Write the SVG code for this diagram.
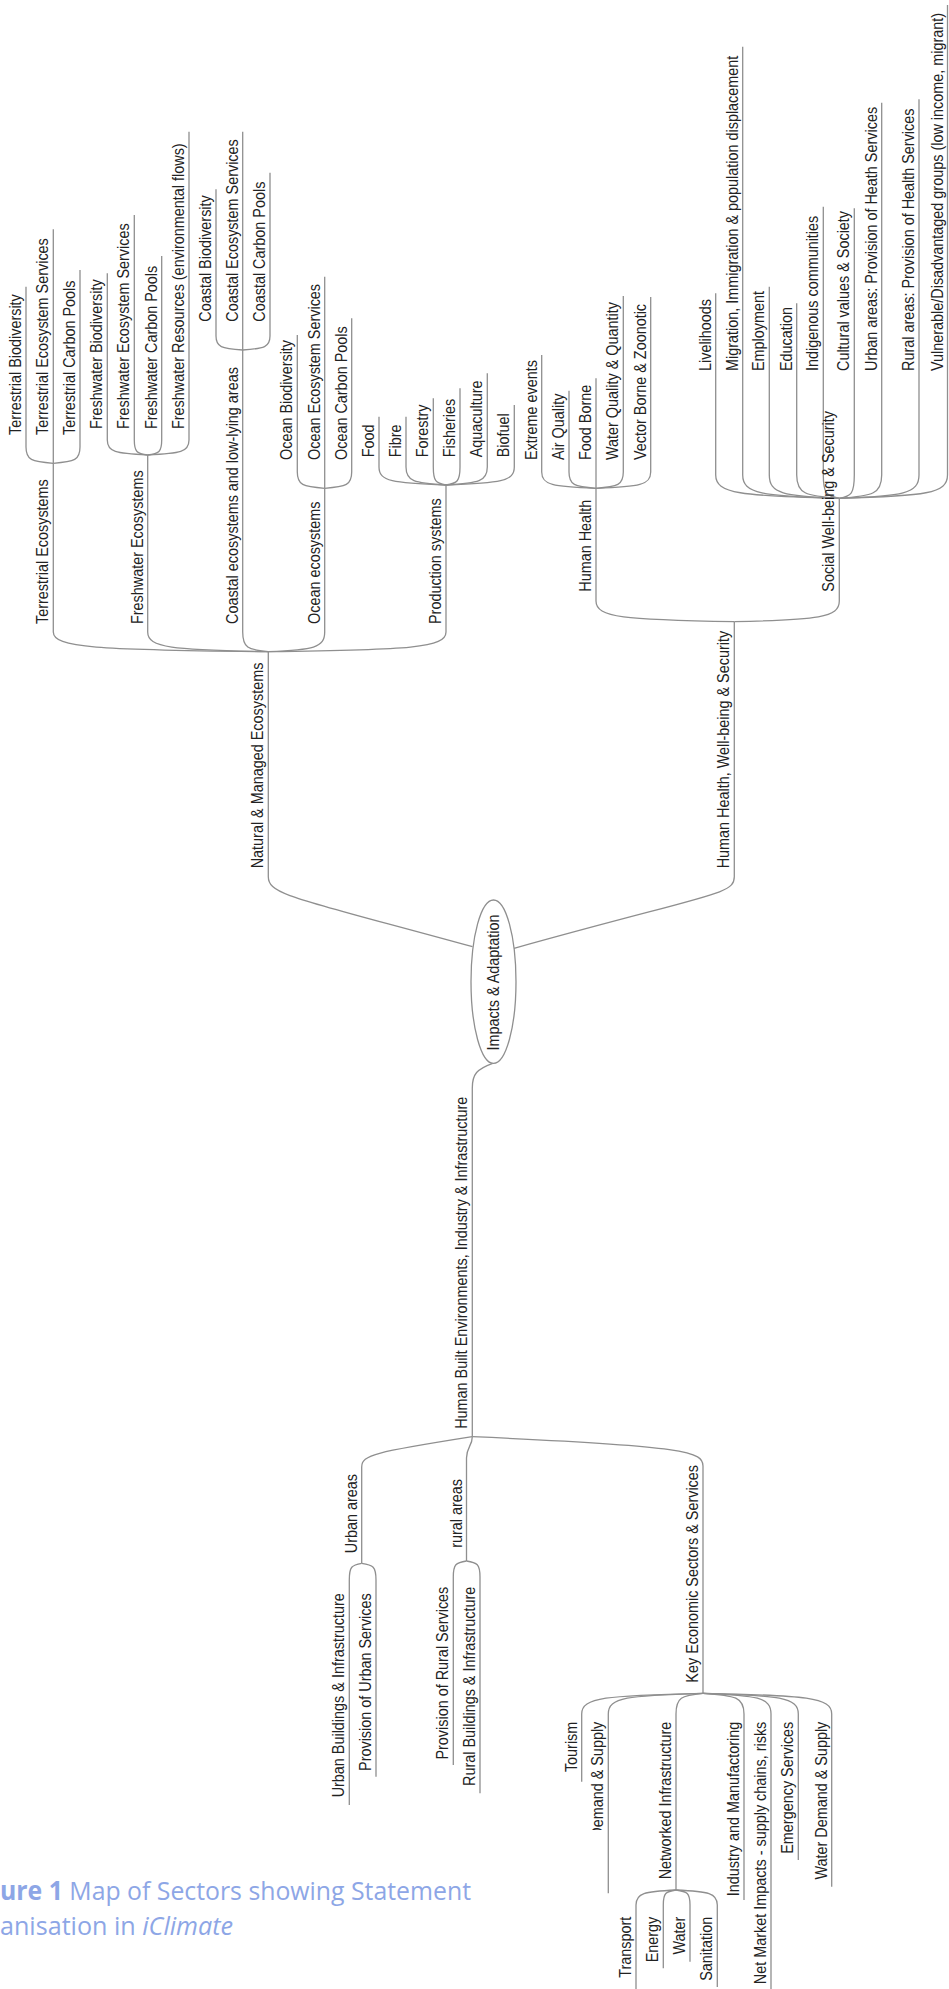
<svg xmlns="http://www.w3.org/2000/svg" width="949" height="1989" viewBox="0 0 949 1989">
<defs>
<style>
.t{font-family:"Liberation Sans",Arial,sans-serif;font-size:16px;fill:#222}
.e{text-anchor:end}
.m{text-anchor:middle}
.c{fill:none;stroke:#8f8f8f;stroke-width:1.3}
.el{fill:#fff;stroke:#8f8f8f;stroke-width:1.3}
.cap{font-family:"Open Sans","Noto Sans",sans-serif;font-size:26px;fill:#8da6e6}
</style>
<clipPath id="clipDS"><rect x="0" y="0" width="949" height="1830"/></clipPath>
</defs>
<rect width="949" height="1989" fill="#fff"/>
<g id="connectors" class="c">
<path d="M268.3,651.7 V876.7 C268.3,895 295,898 472.5,946.7"/>
<path d="M734.3,621.7 V876.7 C734.3,895 712,893 514,948.3"/>
<path d="M492.7,1063.3 C477,1069 472.3,1074 472.3,1088 V1436.7"/>
<path d="M53.3,463.3 V632 C53.3,647.8 96.3,649.7 268.3,651.7"/>
<path d="M147.7,455 V632 C147.7,647.8 171.8,649.7 268.3,651.7"/>
<path d="M242.7,350 V632 C242.7,647.8 247.8,649.7 268.3,651.7"/>
<path d="M324.7,488.3 V632 C324.7,647.8 313.4,649.7 268.3,651.7"/>
<path d="M446,485 V632 C446,647.8 410.5,649.7 268.3,651.7"/>
<path d="M596,488.3 V601 C596,617.6 623.7,619.6 734.3,621.7"/>
<path d="M839.3,498.3 V601 C839.3,617.6 818.3,619.6 734.3,621.7"/>
<path d="M26,286.7 V447 C26,460 31.5,461.7 53.3,463.3"/>
<path d="M53.3,229.3 V463.3"/>
<path d="M80,270 V447 C80,460 74.7,461.7 53.3,463.3"/>
<path d="M107.3,273.3 V440 C107.3,452 115.4,453.5 147.7,455"/>
<path d="M134.3,215 V440 C134.3,452 137,453.5 147.7,455"/>
<path d="M161.7,256 V440 C161.7,452 158.9,453.5 147.7,455"/>
<path d="M189,131.7 V440 C189,452 180.7,453.5 147.7,455"/>
<path d="M216,189.3 V336 C216,347 221.3,348.6 242.7,350"/>
<path d="M242.7,131.7 V350"/>
<path d="M270,172.7 V336 C270,347 264.5,348.6 242.7,350"/>
<path d="M297.3,335 V472 C297.3,485 302.8,486.7 324.7,488.3"/>
<path d="M324.7,276.7 V488.3"/>
<path d="M351.7,318.3 V472 C351.7,485 346.3,486.7 324.7,488.3"/>
<path d="M379,416.7 V467 C379,481.4 392.4,483.2 446,485"/>
<path d="M406,416.7 V467 C406,481.4 414,483.2 446,485"/>
<path d="M433.3,398.3 V467 C433.3,481.4 435.8,483.2 446,485"/>
<path d="M460,388.3 V467 C460,481.4 457.2,483.2 446,485"/>
<path d="M487.3,373.3 V467 C487.3,481.4 479,483.2 446,485"/>
<path d="M514.3,405 V467 C514.3,481.4 500.6,483.2 446,485"/>
<path d="M541.7,355 V472 C541.7,485 552.6,486.7 596,488.3"/>
<path d="M569,390.7 V472 C569,485 574.4,486.7 596,488.3"/>
<path d="M596,378.3 V488.3"/>
<path d="M623.3,296 V472 C623.3,485 617.8,486.7 596,488.3"/>
<path d="M650.7,297 V472 C650.7,485 639.8,486.7 596,488.3"/>
<path d="M715.7,293.3 V475 C715.7,493.6 740.4,496 839.3,498.3"/>
<path d="M742.7,46.7 V475 C742.7,493.6 762,496 839.3,498.3"/>
<path d="M769.3,286.7 V475 C769.3,493.6 783.3,496 839.3,498.3"/>
<path d="M796.7,303.3 V475 C796.7,493.6 805.2,496 839.3,498.3"/>
<path d="M823.3,206.7 V475 C823.3,493.6 826.5,496 839.3,498.3"/>
<path d="M854.3,208.3 V475 C854.3,493.6 851.3,496 839.3,498.3"/>
<path d="M881.7,102.7 V475 C881.7,493.6 873.2,496 839.3,498.3"/>
<path d="M919,99.3 V475 C919,493.6 903.1,496 839.3,498.3"/>
<path d="M947.5,5 V475 C947.5,493.6 925.9,496 839.3,498.3"/>
<path d="M361.7,1563.3 V1467 C361.7,1455 375,1452 472.3,1436.7"/>
<path d="M466.5,1561 V1458 C466.5,1447 472.3,1446 472.3,1436.7"/>
<path d="M703,1693.3 V1466 C703,1452 690,1446 472.3,1436.7"/>
<path d="M349.3,1805 V1580 C349.3,1566.6 351.8,1565 361.7,1563.3"/>
<path d="M376,1776.7 V1580 C376,1566.6 373.1,1565 361.7,1563.3"/>
<path d="M453.3,1765 V1577 C453.3,1564.2 455.9,1562.6 466.5,1561"/>
<path d="M480,1793.3 V1577 C480,1564.2 477.2,1562.6 466.5,1561"/>
<path d="M581.7,1781.7 V1714 C581.7,1697.4 605.9,1695.4 703,1693.3"/>
<path d="M608.3,1893.3 V1714 C608.3,1697.4 627.2,1695.4 703,1693.3"/>
<path d="M676,1890 V1714 C676,1697.4 681.4,1695.4 703,1693.3"/>
<path d="M744,1900 V1714 C744,1697.4 735.8,1695.4 703,1693.3"/>
<path d="M771,1989 V1714 C771,1697.4 757.4,1695.4 703,1693.3"/>
<path d="M798.3,1860 V1714 C798.3,1697.4 779.3,1695.4 703,1693.3"/>
<path d="M831.7,1886.7 V1714 C831.7,1697.4 806.7,1695.4 703,1693.3"/>
<path d="M636,1989 V1905 C636,1893 644,1891.5 676,1890"/>
<path d="M663.3,1968.3 V1905 C663.3,1893 665.8,1891.5 676,1890"/>
<path d="M690,1961.7 V1905 C690,1893 687.2,1891.5 676,1890"/>
<path d="M717.3,1987 V1905 C717.3,1893 709,1891.5 676,1890"/>
</g>
<g id="root"><ellipse class="el" cx="493.5" cy="981.7" rx="22.5" ry="81.7"/><text class="t m" transform="translate(499,982.5) rotate(-90) scale(0.9,1)">Impacts &amp; Adaptation</text></g>
<g id="natural-managed"><text class="t" transform="translate(263.3,868.3) rotate(-90) scale(0.9,1)">Natural &amp; Managed Ecosystems</text></g>
<g id="human-health-wellbeing"><text class="t" transform="translate(729.3,868.3) rotate(-90) scale(0.9,1)">Human Health, Well-being &amp; Security</text></g>
<g id="human-built"><text class="t e" transform="translate(467.3,1096.7) rotate(-90) scale(0.9,1)">Human Built Environments, Industry &amp; Infrastructure</text></g>
<g id="terrestrial-ecosystems"><text class="t" transform="translate(48.3,624) rotate(-90) scale(0.9,1)">Terrestrial Ecosystems</text></g>
<g id="freshwater-ecosystems"><text class="t" transform="translate(142.7,624) rotate(-90) scale(0.9,1)">Freshwater Ecosystems</text></g>
<g id="coastal-ecosystems"><text class="t" transform="translate(237.7,624) rotate(-90) scale(0.9,1)">Coastal ecosystems and low-lying areas</text></g>
<g id="ocean-ecosystems"><text class="t" transform="translate(319.7,624) rotate(-90) scale(0.9,1)">Ocean ecosystems</text></g>
<g id="production-systems"><text class="t" transform="translate(441,624) rotate(-90) scale(0.9,1)">Production systems</text></g>
<g id="human-health"><text class="t" transform="translate(591,591.7) rotate(-90) scale(0.9,1)">Human Health</text></g>
<g id="social-wellbeing"><text class="t" transform="translate(834.3,591.7) rotate(-90) scale(0.9,1)">Social Well-being &amp; Security</text></g>
<g id="terrestrial-biodiversity"><text class="t" transform="translate(21,435) rotate(-90) scale(0.9,1)">Terrestrial Biodiversity</text></g>
<g id="terrestrial-ecosystem-services"><text class="t" transform="translate(48.3,435) rotate(-90) scale(0.9,1)">Terrestrial Ecosystem Services</text></g>
<g id="terrestrial-carbon-pools"><text class="t" transform="translate(75,435) rotate(-90) scale(0.9,1)">Terrestrial Carbon Pools</text></g>
<g id="freshwater-biodiversity"><text class="t" transform="translate(102.3,429) rotate(-90) scale(0.9,1)">Freshwater Biodiversity</text></g>
<g id="freshwater-ecosystem-services"><text class="t" transform="translate(129.3,429) rotate(-90) scale(0.9,1)">Freshwater Ecosystem Services</text></g>
<g id="freshwater-carbon-pools"><text class="t" transform="translate(156.7,429) rotate(-90) scale(0.9,1)">Freshwater Carbon Pools</text></g>
<g id="freshwater-resources"><text class="t" transform="translate(184,429) rotate(-90) scale(0.9,1)">Freshwater Resources (environmental flows)</text></g>
<g id="coastal-biodiversity"><text class="t" transform="translate(211,321.7) rotate(-90) scale(0.9,1)">Coastal Biodiversity</text></g>
<g id="coastal-ecosystem-services"><text class="t" transform="translate(237.7,321.7) rotate(-90) scale(0.9,1)">Coastal Ecosystem Services</text></g>
<g id="coastal-carbon-pools"><text class="t" transform="translate(265,321.7) rotate(-90) scale(0.9,1)">Coastal Carbon Pools</text></g>
<g id="ocean-biodiversity"><text class="t" transform="translate(292.3,460) rotate(-90) scale(0.9,1)">Ocean Biodiversity</text></g>
<g id="ocean-ecosystem-services"><text class="t" transform="translate(319.7,460) rotate(-90) scale(0.9,1)">Ocean Ecosystem Services</text></g>
<g id="ocean-carbon-pools"><text class="t" transform="translate(346.7,460) rotate(-90) scale(0.9,1)">Ocean Carbon Pools</text></g>
<g id="food"><text class="t" transform="translate(374,457.3) rotate(-90) scale(0.9,1)">Food</text></g>
<g id="fibre"><text class="t" transform="translate(401,457.3) rotate(-90) scale(0.9,1)">Fibre</text></g>
<g id="forestry"><text class="t" transform="translate(428.3,457.3) rotate(-90) scale(0.9,1)">Forestry</text></g>
<g id="fisheries"><text class="t" transform="translate(455,457.3) rotate(-90) scale(0.9,1)">Fisheries</text></g>
<g id="aquaculture"><text class="t" transform="translate(482.3,457.3) rotate(-90) scale(0.9,1)">Aquaculture</text></g>
<g id="biofuel"><text class="t" transform="translate(509.3,457.3) rotate(-90) scale(0.9,1)">Biofuel</text></g>
<g id="extreme-events"><text class="t" transform="translate(536.7,460) rotate(-90) scale(0.9,1)">Extreme events</text></g>
<g id="air-quality"><text class="t" transform="translate(564,460) rotate(-90) scale(0.9,1)">Air Quality</text></g>
<g id="food-borne"><text class="t" transform="translate(591,460) rotate(-90) scale(0.9,1)">Food Borne</text></g>
<g id="water-quality"><text class="t" transform="translate(618.3,460) rotate(-90) scale(0.9,1)">Water Quality &amp; Quantity</text></g>
<g id="vector-borne"><text class="t" transform="translate(645.7,460) rotate(-90) scale(0.9,1)">Vector Borne &amp; Zoonotic</text></g>
<g id="livelihoods"><text class="t" transform="translate(710.7,371) rotate(-90) scale(0.9,1)">Livelihoods</text></g>
<g id="migration"><text class="t" transform="translate(737.7,371) rotate(-90) scale(0.9,1)">Migration, Immigration &amp; population displacement</text></g>
<g id="employment"><text class="t" transform="translate(764.3,371) rotate(-90) scale(0.9,1)">Employment</text></g>
<g id="education"><text class="t" transform="translate(791.7,371) rotate(-90) scale(0.9,1)">Education</text></g>
<g id="indigenous"><text class="t" transform="translate(818.3,371) rotate(-90) scale(0.9,1)">Indigenous communities</text></g>
<g id="cultural"><text class="t" transform="translate(849.3,371) rotate(-90) scale(0.9,1)">Cultural values &amp; Society</text></g>
<g id="urban-health"><text class="t" transform="translate(876.7,371) rotate(-90) scale(0.9,1)">Urban areas: Provision of Heath Services</text></g>
<g id="rural-health"><text class="t" transform="translate(914,371) rotate(-90) scale(0.9,1)">Rural areas: Provision of Health Services</text></g>
<g id="vulnerable"><text class="t" transform="translate(942.5,371) rotate(-90) scale(0.9,1)">Vulnerable/Disadvantaged groups (low income, migrant)</text></g>
<g id="urban-areas"><text class="t e" transform="translate(356.7,1474) rotate(-90) scale(0.9,1)">Urban areas</text></g>
<g id="rural-areas"><text class="t e" transform="translate(461.5,1479) rotate(-90) scale(0.9,1)">rural areas</text></g>
<g id="key-economic"><text class="t e" transform="translate(698,1465) rotate(-90) scale(0.9,1)">Key Economic Sectors &amp; Services</text></g>
<g id="urban-buildings"><text class="t e" transform="translate(344.3,1593.3) rotate(-90) scale(0.9,1)">Urban Buildings &amp; Infrastructure</text></g>
<g id="urban-services"><text class="t e" transform="translate(371,1593.3) rotate(-90) scale(0.9,1)">Provision of Urban Services</text></g>
<g id="rural-services"><text class="t e" transform="translate(448.3,1586.7) rotate(-90) scale(0.9,1)">Provision of Rural Services</text></g>
<g id="rural-buildings"><text class="t e" transform="translate(475,1586.7) rotate(-90) scale(0.9,1)">Rural Buildings &amp; Infrastructure</text></g>
<g id="tourism"><text class="t e" transform="translate(576.7,1721.7) rotate(-90) scale(0.9,1)">Tourism</text></g>
<g id="demand-supply" clip-path="url(#clipDS)"><text class="t e" transform="translate(603.3,1721.7) rotate(-90) scale(0.9,1)">Demand &amp; Supply</text></g>
<g id="networked"><text class="t e" transform="translate(671,1721.7) rotate(-90) scale(0.9,1)">Networked Infrastructure</text></g>
<g id="industry"><text class="t e" transform="translate(739,1721.7) rotate(-90) scale(0.9,1)">Industry and Manufactoring</text></g>
<g id="net-market"><text class="t e" transform="translate(766,1721.7) rotate(-90) scale(0.9,1)">Net Market Impacts - supply chains, risks</text></g>
<g id="emergency"><text class="t e" transform="translate(793.3,1721.7) rotate(-90) scale(0.9,1)">Emergency Services</text></g>
<g id="water-demand"><text class="t e" transform="translate(826.7,1721.7) rotate(-90) scale(0.9,1)">Water Demand &amp; Supply</text></g>
<g id="transport"><text class="t e" transform="translate(631,1916.7) rotate(-90) scale(0.9,1)">Transport</text></g>
<g id="energy"><text class="t e" transform="translate(658.3,1916.7) rotate(-90) scale(0.9,1)">Energy</text></g>
<g id="water"><text class="t e" transform="translate(685,1916.7) rotate(-90) scale(0.9,1)">Water</text></g>
<g id="sanitation"><text class="t e" transform="translate(712.3,1916.7) rotate(-90) scale(0.9,1)">Sanitation</text></g>
<g id="caption">
<text class="cap" x="0" y="1900" textLength="471" lengthAdjust="spacingAndGlyphs"><tspan font-weight="bold">ure 1</tspan> Map of Sectors showing Statement</text>
<text class="cap" x="0" y="1935" textLength="233" lengthAdjust="spacingAndGlyphs">anisation in <tspan font-style="italic">iClimate</tspan></text>
</g>
</svg>
